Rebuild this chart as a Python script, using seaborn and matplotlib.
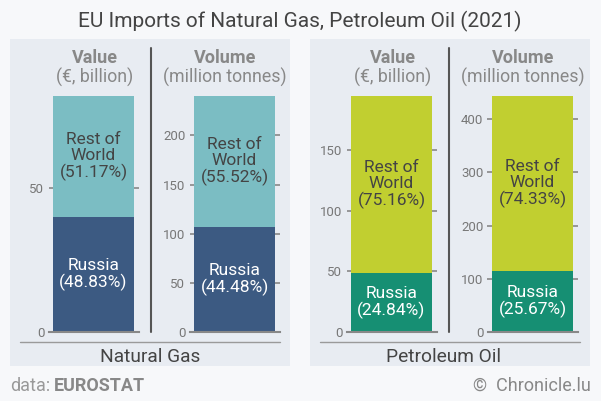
import matplotlib
matplotlib.use("Agg")
import matplotlib.pyplot as plt
import seaborn as sns
from matplotlib.patches import Rectangle

# data
products = ["Natural Gas", "Petroleum Oil"]
measures = ["Value", "Volume"]
units = ["(€, billion)", "(million tonnes)"]
russia = [[40.0, 106.7], [48.3, 113.9]]
rest_of_world = [[41.9, 133.3], [146.2, 329.9]]
russia_pct = [["48.83%", "44.48%"], ["24.84%", "25.67%"]]
rest_pct = [["51.17%", "55.52%"], ["75.16%", "74.33%"]]
tick_steps = [[50, 50], [50, 100]]

colors_rest = ["#7bbdc3", "#c1cf30"]
colors_russia = ["#3c5a82", "#168f73"]

sns.set_style("white")
plt.rcParams["font.family"] = ["Roboto", "DejaVu Sans"]

W, H = 601, 401
fig = plt.figure(figsize=(W / 100, H / 100), dpi=100, facecolor="#f7f8fa")


def fx(px):
    return px / W


def fy(py):
    return 1 - py / H


fig.text(fx(300), fy(27), "EU Imports of Natural Gas, Petroleum Oil (2021)",
         ha="center", va="baseline", fontsize=15, color="#444444")

for p, product in enumerate(products):
    off = 298 * p
    # panel background
    fig.patches.append(Rectangle((fx(10 + 300 * p), fy(366)), fx(280), 327 / H,
                                 transform=fig.transFigure, facecolor="#e8ecf2",
                                 edgecolor="none", zorder=-5))
    # separator between the two bars
    fig.add_artist(plt.Line2D([fx(151 + off)] * 2, [fy(48), fy(332)],
                              transform=fig.transFigure, color="#555555", lw=1.5))
    # line above product name
    fig.add_artist(plt.Line2D([fx(20 + 300 * p), fx(280 + 300 * p)], [fy(342)] * 2,
                              transform=fig.transFigure, color="#9a9a9a", lw=1))
    fig.text(fx(150 + 293 * p), fy(362), product, ha="center", va="baseline",
             fontsize=13.8, color="#444444")

    head_x = [95 + off, 225 + off]
    ax_left = [48.5 + off, 189.5 + off]
    for m in range(2):
        fig.text(fx(head_x[m]), fy(63), measures[m], ha="center", va="baseline",
                 fontsize=13, fontweight="bold", color="#888888")
        fig.text(fx(head_x[m]), fy(83), units[m], ha="center", va="baseline",
                 fontsize=12.8, color="#888888")

        ax = fig.add_axes([fx(ax_left[m]), fy(332), 90 / W, 236 / H])
        ax.set_facecolor("none")
        r = russia[p][m]
        o = rest_of_world[p][m]
        total = r + o
        sns.barplot(x=[0], y=[total], color=colors_rest[p], width=0.89,
                    saturation=1, ax=ax, native_scale=True)
        sns.barplot(x=[0], y=[r], color=colors_russia[p], width=0.89,
                    saturation=1, ax=ax, native_scale=True)
        for bar in ax.patches:
            bar.set_edgecolor("none")
        ax.set_xlim(-0.5, 0.5)
        ax.set_ylim(0, total)
        step = tick_steps[p][m]
        ax.set_yticks(range(0, int(total) + 1, step))
        ax.set_xticks([])
        ax.set_xlabel("")
        ax.set_ylabel("")
        for s in ["left", "right", "top"]:
            ax.spines[s].set_visible(False)
        ax.spines["bottom"].set_color("#888888")
        ax.spines["bottom"].set_linewidth(1.5)
        ax.tick_params(axis="y", direction="in", length=4, width=1.2,
                       color="#888888", labelcolor="#777777", labelsize=9.5,
                       pad=3, left=True, right=True)

        ax.text(0, r + o / 2, f"Rest of\nWorld\n({rest_pct[p][m]})",
                ha="center", va="center", fontsize=12.5, color="#444444",
                linespacing=1.05)
        ax.text(0, r / 2, f"Russia\n({russia_pct[p][m]})", ha="center",
                va="center", fontsize=12.5, color="white", linespacing=1.05)

fig.text(fx(10), fy(391), "data:", ha="left", va="baseline", fontsize=13,
         color="#999999")
fig.text(fx(54), fy(391), "EUROSTAT", ha="left", va="baseline", fontsize=13,
         fontweight="bold", color="#888888")
fig.text(fx(591), fy(391), "©  Chronicle.lu", ha="right", va="baseline",
         fontsize=13, color="#888888")

fig.savefig("out.png", dpi=100, facecolor=fig.get_facecolor())
